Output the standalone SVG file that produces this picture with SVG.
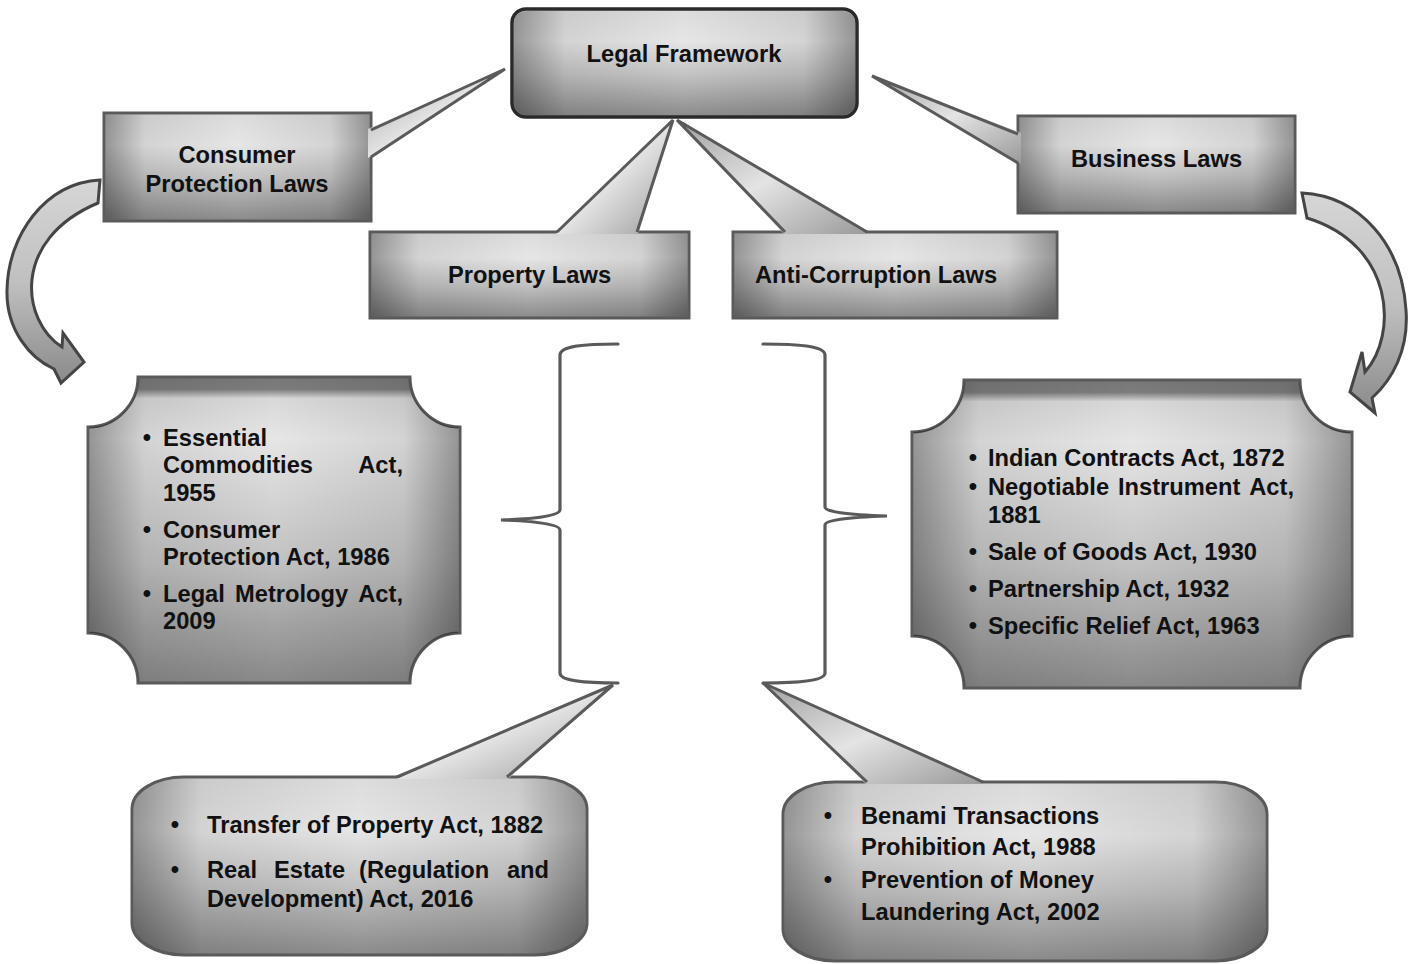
<svg xmlns="http://www.w3.org/2000/svg" width="1413" height="964" viewBox="0 0 1413 964">
<style>
text{font-family:"Liberation Sans",Arial,sans-serif;font-weight:bold;font-size:23.7px;fill:#111}
.c{text-anchor:middle}
.e{text-anchor:end}
.box{stroke:#5a5a5a;stroke-width:3}
.ov{fill:url(#gh);stroke:none}
.tail{fill:url(#gw);stroke:none}
.tl{fill:none;stroke:#5a5a5a;stroke-width:3;stroke-linejoin:miter}
.brace{fill:none;stroke:#5a5a5a;stroke-width:3.2;stroke-linecap:round}
.arr{fill:url(#ga);stroke:#454545;stroke-width:3;stroke-linejoin:miter}
</style>
<defs>
<linearGradient id="gv" x1="0" y1="0" x2="0" y2="1">
<stop offset="0" stop-color="#dcdcdc"/><stop offset="0.3" stop-color="#e6e6e6"/><stop offset="0.6" stop-color="#c4c4c4"/><stop offset="1" stop-color="#8a8a8a"/>
</linearGradient>
<linearGradient id="gp" x1="0" y1="0" x2="0" y2="1">
<stop offset="0" stop-color="#787878"/><stop offset="0.04" stop-color="#7c7c7c"/><stop offset="0.07" stop-color="#d8d8d8"/><stop offset="0.2" stop-color="#e6e6e6"/><stop offset="0.6" stop-color="#c2c2c2"/><stop offset="1" stop-color="#888888"/>
</linearGradient>
<linearGradient id="gh" x1="0" y1="0" x2="1" y2="0">
<stop offset="0" stop-color="#000" stop-opacity="0.35"/><stop offset="0.15" stop-color="#000" stop-opacity="0.08"/><stop offset="0.5" stop-color="#000" stop-opacity="0"/><stop offset="0.85" stop-color="#000" stop-opacity="0.08"/><stop offset="1" stop-color="#000" stop-opacity="0.35"/>
</linearGradient>
<linearGradient id="gw" x1="0" y1="0" x2="1" y2="1">
<stop offset="0" stop-color="#a0a0a0"/><stop offset="0.5" stop-color="#e4e4e4"/><stop offset="1" stop-color="#9a9a9a"/>
</linearGradient>
<linearGradient id="ga" x1="0" y1="0" x2="0" y2="1">
<stop offset="0" stop-color="#d6d6d6"/><stop offset="0.5" stop-color="#c0c0c0"/><stop offset="1" stop-color="#8a8a8a"/>
</linearGradient>
</defs>
<rect width="1413" height="964" fill="#fff"/>

<g id="legal-framework">
<rect x="512" y="9" width="345" height="108" rx="14" fill="url(#gv)" stroke="#2a2a2a" stroke-width="3.5"/>
<rect x="514" y="11" width="341" height="104" rx="12" class="ov"/>
<text x="684" y="62" class="c">Legal Framework</text>
</g>

<g id="consumer-protection-laws">
<rect x="104" y="113" width="267" height="108" class="box" fill="url(#gv)"/>
<rect x="105.5" y="114.5" width="264" height="105" class="ov"/>
<text x="237" y="163" class="c">Consumer</text>
<text x="237" y="192" class="c">Protection Laws</text>
</g>

<g id="property-laws">
<rect x="370" y="232" width="319" height="86" class="box" fill="url(#gv)"/>
<rect x="371.5" y="233.5" width="316" height="83" class="ov"/>
<text x="529.5" y="283" class="c">Property Laws</text>
</g>

<g id="anti-corruption-laws">
<rect x="733" y="232" width="324" height="86" class="box" fill="url(#gv)"/>
<rect x="734.5" y="233.5" width="321" height="83" class="ov"/>
<text x="755" y="283">Anti-Corruption Laws</text>
</g>

<g id="business-laws">
<rect x="1018" y="116" width="277" height="97" class="box" fill="url(#gv)"/>
<rect x="1019.5" y="117.5" width="274" height="94" class="ov"/>
<text x="1156.5" y="167" class="c">Business Laws</text>
</g>

<g id="consumer-acts">
<path class="box" fill="url(#gp)" d="M138,377 H410 A50,50 0 0 0 460,427 V633 A50,50 0 0 0 410,683 H138 A50,50 0 0 0 88,633 V427 A50,50 0 0 0 138,377 Z"/>
<path class="ov" d="M138,378.5 H410 A50,50 0 0 0 458.5,427 V633 A50,50 0 0 0 410,681.5 H138 A50,50 0 0 0 89.5,633 V427 A50,50 0 0 0 138,378.5 Z"/>
<text x="147" y="446" class="c">•</text><text x="163" y="446">Essential</text>
<text x="163" y="473">Commodities</text><text x="403" y="473" class="e">Act,</text>
<text x="163" y="501">1955</text>
<text x="147" y="538" class="c">•</text><text x="163" y="538">Consumer</text>
<text x="163" y="565">Protection Act, 1986</text>
<text x="147" y="602" class="c">•</text><text x="163" y="602">Legal</text><text x="235" y="602">Metrology</text><text x="403" y="602" class="e">Act,</text>
<text x="163" y="629">2009</text>
</g>

<g id="business-acts">
<path class="box" fill="url(#gp)" d="M964,380 H1300 A52,52 0 0 0 1352,432 V636 A52,52 0 0 0 1300,688 H964 A52,52 0 0 0 912,636 V432 A52,52 0 0 0 964,380 Z"/>
<path class="ov" d="M964,381.5 H1300 A52,52 0 0 0 1350.5,432 V636 A52,52 0 0 0 1300,686.5 H964 A52,52 0 0 0 913.5,636 V432 A52,52 0 0 0 964,381.5 Z"/>
<text x="973" y="466" class="c">•</text><text x="988" y="466">Indian Contracts Act, 1872</text>
<text x="973" y="495" class="c">•</text><text x="988" y="495">Negotiable</text><text x="1118" y="495">Instrument</text><text x="1294" y="495" class="e">Act,</text>
<text x="988" y="523">1881</text>
<text x="973" y="560" class="c">•</text><text x="988" y="560">Sale of Goods Act, 1930</text>
<text x="973" y="597" class="c">•</text><text x="988" y="597">Partnership Act, 1932</text>
<text x="973" y="634" class="c">•</text><text x="988" y="634">Specific Relief Act, 1963</text>
</g>

<g id="property-acts">
<rect x="132" y="777" width="455" height="178" rx="52" ry="32" class="box" fill="url(#gv)"/>
<rect x="133.5" y="778.5" width="452" height="175" rx="50" ry="30" class="ov"/>
<text x="175" y="833" class="c">•</text><text x="207" y="833">Transfer of Property Act, 1882</text>
<text x="175" y="878" class="c">•</text><text x="207" y="878">Real</text><text x="274" y="878">Estate</text><text x="359" y="878">(Regulation</text><text x="549" y="878" class="e">and</text>
<text x="207" y="907">Development) Act, 2016</text>
</g>

<g id="anti-corruption-acts">
<rect x="783" y="782" width="484" height="179" rx="52" ry="32" class="box" fill="url(#gv)"/>
<rect x="784.5" y="783.5" width="481" height="176" rx="50" ry="30" class="ov"/>
<text x="828" y="824" class="c">•</text><text x="861" y="824">Benami Transactions</text>
<text x="861" y="855">Prohibition Act, 1988</text>
<text x="828" y="888" class="c">•</text><text x="861" y="888">Prevention of Money</text>
<text x="861" y="920">Laundering Act, 2002</text>
</g>

<g id="connectors">
<polygon class="tail" points="368,129 505,69 368,158"/>
<polyline class="tl" points="371,130 505,69 371,157"/>
<polygon class="tail" points="556,234 673,120 638,234"/>
<polyline class="tl" points="557,232 673,120 637,232"/>
<polygon class="tail" points="784,234 677,120 868,234"/>
<polyline class="tl" points="785,232 677,120 867,232"/>
<polygon class="tail" points="1021,133 872,76 1021,164"/>
<polyline class="tl" points="1018,134 872,76 1018,163"/>
<polygon class="tail" points="396,779 613,685 508,779"/>
<polyline class="tl" points="397,777 613,685 507,777"/>
<polygon class="tail" points="866,784 763,683 984,784"/>
<polyline class="tl" points="867,782 763,683 983,782"/>
<path class="brace" d="M618,344 C585,344 560,346 560,355 V510 Q560,518 501,520 Q560,522 560,530 V673 C560,681 585,683 618,683"/>
<path class="brace" d="M763,344 C796,344 825,346 825,355 V507 Q825,514 887,516 Q825,518 825,525 V673 C825,681 796,683 763,683"/>
<path class="arr" d="M100,180 C45,183 8,235 7,290 C6,330 30,358 54,369 L61,383 L84,362 L63,333 L62,347 C22,322 10,240 98,203 Z"/>
<path class="arr" d="M1302,193 C1360,196 1402,245 1406,310 C1409,350 1392,380 1372,398 L1375,413 L1350,392 L1362,352 L1365,372 C1398,335 1395,245 1307,218 Z"/>
</g>
</svg>
